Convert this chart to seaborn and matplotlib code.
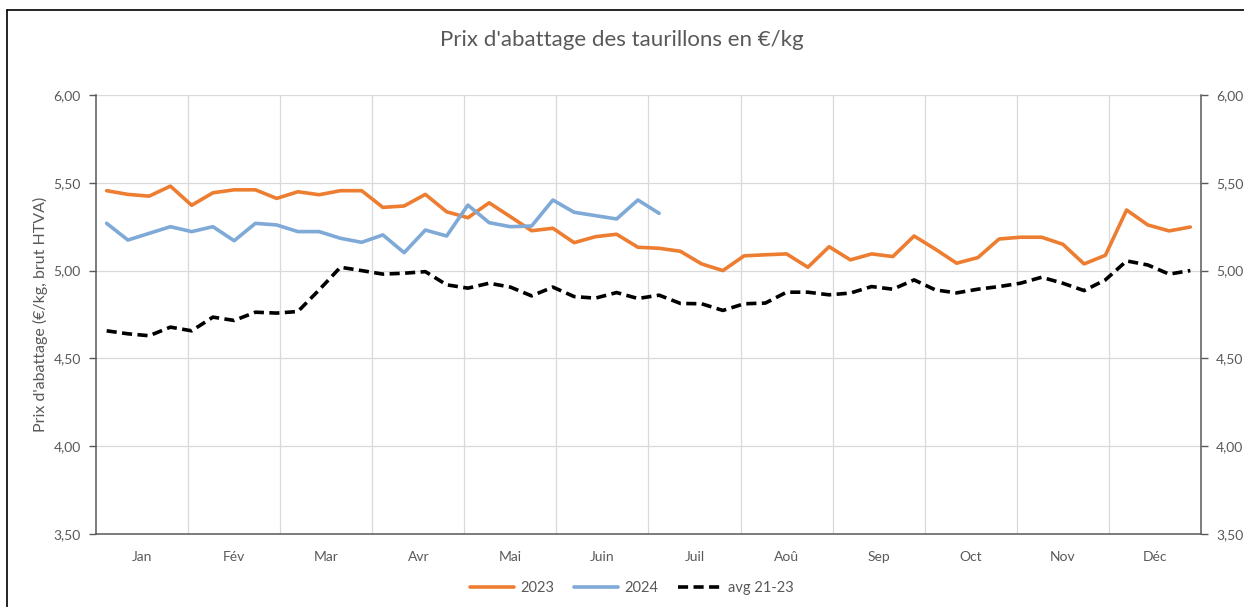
import numpy as np
import pandas as pd
import matplotlib
matplotlib.use("Agg")
import matplotlib.pyplot as plt
from matplotlib.lines import Line2D
import seaborn as sns

# Weekly slaughter prices (EUR/kg)
months = ["Jan", "Fév", "Mar", "Avr", "Mai", "Juin", "Juil", "Aoû", "Sep", "Oct", "Nov", "Déc"]

prix_2023 = [5.455, 5.434, 5.424, 5.481, 5.372, 5.443, 5.460, 5.460, 5.411, 5.449,
             5.432, 5.455, 5.455, 5.360, 5.368, 5.434, 5.335, 5.301, 5.386, 5.307,
             5.227, 5.241, 5.159, 5.193, 5.207, 5.133, 5.127, 5.110, 5.038, 5.000,
             5.084, 5.090, 5.095, 5.019, 5.136, 5.061, 5.095, 5.080, 5.197, 5.122,
             5.042, 5.074, 5.180, 5.190, 5.190, 5.150, 5.038, 5.087, 5.345, 5.260,
             5.226, 5.248]

prix_2024 = [5.269, 5.174, 5.212, 5.250, 5.222, 5.250, 5.170, 5.269, 5.260, 5.222,
             5.222, 5.184, 5.161, 5.203, 5.102, 5.231, 5.197, 5.373, 5.273, 5.250,
             5.254, 5.402, 5.332, 5.313, 5.294, 5.402, 5.326]

avg_21_23 = [4.657, 4.640, 4.629, 4.678, 4.657, 4.735, 4.716, 4.763, 4.758, 4.767,
             4.890, 5.019, 5.000, 4.980, 4.985, 4.994, 4.919, 4.900, 4.928, 4.906,
             4.856, 4.906, 4.852, 4.843, 4.875, 4.841, 4.860, 4.813, 4.811, 4.773,
             4.811, 4.815, 4.877, 4.877, 4.862, 4.872, 4.909, 4.894, 4.947, 4.890,
             4.873, 4.894, 4.909, 4.928, 4.962, 4.928, 4.886, 4.947, 5.055, 5.032,
             4.980, 5.000]

df23 = pd.DataFrame({"semaine": np.arange(len(prix_2023)), "prix": prix_2023})
df24 = pd.DataFrame({"semaine": np.arange(len(prix_2024)), "prix": prix_2024})
dfavg = pd.DataFrame({"semaine": np.arange(len(avg_21_23)), "prix": avg_21_23})

sns.set_theme(style="white")
plt.rcParams["font.family"] = ["Lato", "DejaVu Sans"]

grey = "#595959"
fig = plt.figure(figsize=(12.44, 6.07), dpi=100)
ax = fig.add_axes([0.0772, 0.1203, 0.8882, 0.7232])

sns.lineplot(data=df23, x="semaine", y="prix", ax=ax, color="#ED7D31", linewidth=2.6, label="2023")
sns.lineplot(data=df24, x="semaine", y="prix", ax=ax, color="#7FA9D6", linewidth=2.6, label="2024")
sns.lineplot(data=dfavg, x="semaine", y="prix", ax=ax, color="black", linewidth=2.6,
             linestyle=(0, (2.8, 1.5)), label="avg 21-23")

n_weeks = 52
ax.set_xlim(-0.5, n_weeks - 0.5)
ax.set_ylim(3.5, 6.0)

# month boundaries as vertical gridlines, labels centred in each month
bounds = np.linspace(-0.5, n_weeks - 0.5, 13)
for b in bounds[1:-1]:
    ax.axvline(b, color="#d9d9d9", linewidth=0.9, zorder=0)
ax.set_xticks((bounds[:-1] + bounds[1:]) / 2)
ax.set_xticklabels(months)
ax.tick_params(axis="x", length=0, pad=12, labelsize=10, labelcolor=grey)

yt = np.arange(3.5, 6.01, 0.5)
ax.set_yticks(yt)
ax.set_yticklabels([f"{v:.2f}".replace(".", ",") for v in yt])
ax.yaxis.grid(True, color="#d9d9d9", linewidth=0.9)
ax.set_axisbelow(True)
ax.tick_params(axis="y", left=True, right=True, labelleft=True, labelright=True,
               length=5, width=1, color=grey, labelsize=10, labelcolor=grey, pad=6)

for s in ["left", "right", "bottom"]:
    ax.spines[s].set_color(grey)
    ax.spines[s].set_linewidth(1.1)
ax.spines["top"].set_visible(False)

ax.set_xlabel("")
ax.set_ylabel("Prix d'abattage (€/kg, brut HTVA)", color=grey, fontsize=11.5, labelpad=4)

ax.get_legend().remove()
handles, labels = ax.get_legend_handles_labels()
fig.legend(handles, labels, loc="center", bbox_to_anchor=(0.508, 0.031), ncol=3, frameon=False,
           fontsize=10.5, labelcolor=grey, handlelength=3.0, columnspacing=1.4, handletextpad=0.4)

fig.suptitle("Prix d'abattage des taurillons en €/kg", y=0.95, fontsize=16, color=grey)

# chart frame lines (top and left edges of the Excel chart area)
fig.add_artist(Line2D([7 / 1244, 1], [1 - 10 / 607, 1 - 10 / 607], transform=fig.transFigure, color="black", linewidth=1.2))
fig.add_artist(Line2D([7 / 1244, 7 / 1244], [0, 1 - 10 / 607], transform=fig.transFigure, color="black", linewidth=1.2))

fig.savefig("out.png", dpi=100)
